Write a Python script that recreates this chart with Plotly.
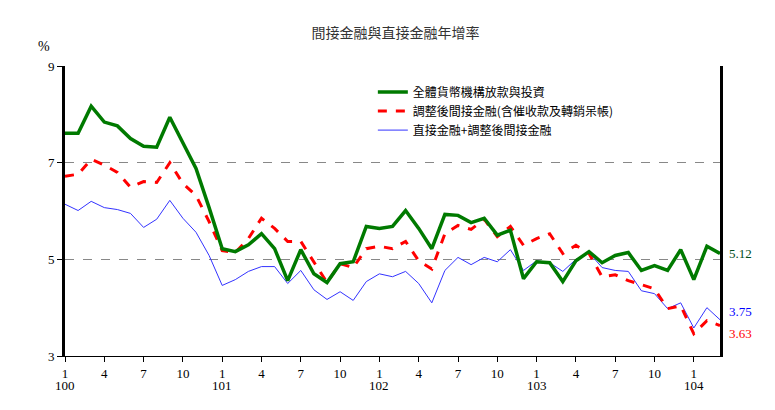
import plotly.graph_objects as go

years = ["100", "101", "102", "103", "104"]
months = [1, 4, 7, 10]
n_points = 51  # 100/1 .. 104/3

loans = [7.61, 7.61, 8.17, 7.84, 7.76, 7.50, 7.34, 7.32, 7.94, 7.42, 6.88, 6.07,
         5.22, 5.16, 5.30, 5.53, 5.22, 4.56, 5.20, 4.70, 4.52, 4.91, 4.95, 5.68,
         5.64, 5.68, 6.01, 5.64, 5.22, 5.93, 5.91, 5.76, 5.85, 5.50, 5.60, 4.60,
         4.95, 4.93, 4.54, 4.97, 5.16, 4.93, 5.08, 5.14, 4.77, 4.87, 4.77, 5.20,
         4.58, 5.27, 5.12]
indirect = [6.72, 6.76, 7.07, 6.95, 6.80, 6.49, 6.61, 6.59, 7.00, 6.57, 6.32, 5.78,
            5.18, 5.14, 5.43, 5.85, 5.64, 5.37, 5.37, 4.95, 4.52, 4.91, 4.83, 5.22,
            5.27, 5.22, 5.37, 4.97, 4.80, 5.53, 5.70, 5.62, 5.83, 5.47, 5.68, 5.29,
            5.43, 5.53, 5.12, 5.29, 5.12, 4.64, 4.68, 4.56, 4.48, 4.39, 3.98, 4.04,
            3.46, 3.73, 3.63]
total = [6.14, 6.01, 6.20, 6.07, 6.03, 5.95, 5.66, 5.83, 6.22, 5.85, 5.56, 5.08,
         4.46, 4.58, 4.75, 4.85, 4.85, 4.50, 4.77, 4.37, 4.17, 4.33, 4.15, 4.54,
         4.70, 4.64, 4.75, 4.50, 4.10, 4.77, 5.04, 4.89, 5.04, 4.95, 5.20, 4.77,
         4.97, 4.93, 4.75, 5.00, 5.14, 4.83, 4.77, 4.75, 4.35, 4.29, 3.98, 4.10,
         3.58, 4.00, 3.75]

x = list(range(n_points))
font = "Noto Sans CJK TC"

fig = go.Figure()
fig.add_trace(go.Scatter(x=x, y=total, mode="lines", name="直接金融+調整後間接金融",
                         line=dict(color="#3333ff", width=1)))
fig.add_trace(go.Scatter(x=x, y=indirect, mode="lines", name="調整後間接金融(含催收款及轉銷呆帳)",
                         line=dict(color="#ff0000", width=3, dash="dash")))
fig.add_trace(go.Scatter(x=x, y=loans, mode="lines", name="全體貨幣機構放款與投資",
                         line=dict(color="#007a00", width=3.5)))

tickvals, ticktext = [], []
for yi, yr in enumerate(years):
    for m in months:
        idx = yi * 12 + m - 1
        if idx < n_points:
            tickvals.append(idx)
            ticktext.append(str(m))

ann = []
for yi, yr in enumerate(years):
    ann.append(dict(x=yi * 12, y=-0.135, xref="x", yref="paper", text=yr, showarrow=False,
                    font=dict(size=13, color="black", family="Liberation Serif")))
for val, col, shift in [(loans[-1], "#004d1a", 0), (total[-1], "#0000ff", 8),
                        (indirect[-1], "#ff0000", -8)]:
    ann.append(dict(x=1.01, y=val, xref="paper", yref="y", text=f"{val:.2f}", xanchor="left",
                    yshift=shift, showarrow=False,
                    font=dict(size=13, color=col, family="Liberation Serif")))
ann.append(dict(x=-0.045, y=1.1, xref="paper", yref="paper", text="%", showarrow=False,
                font=dict(size=14, color="black", family="Liberation Serif")))

fig.update_layout(
    width=775, height=410,
    margin=dict(l=57, r=63, t=58, b=62),
    paper_bgcolor="white", plot_bgcolor="white",
    title=dict(text="間接金融與直接金融年增率", x=0.5, y=0.95, xanchor="center",
               font=dict(size=14, color="#333", family=font)),
    showlegend=True,
    legend=dict(x=0.47, y=0.96, xanchor="left", yanchor="top", traceorder="reversed",
                font=dict(size=12, family=font, color="black"), bgcolor="rgba(0,0,0,0)"),
    annotations=ann,
    xaxis=dict(range=[0, n_points - 1], tickvals=tickvals, ticktext=ticktext,
               ticks="outside", ticklen=5, tickcolor="black", showgrid=False,
               showline=True, linecolor="black", linewidth=1, mirror=False,
               tickfont=dict(size=13, color="black", family="Liberation Serif")),
    yaxis=dict(range=[3, 9], tickvals=[3, 5, 7, 9], ticks="outside", ticklen=5,
               tickcolor="black", showline=True, linecolor="black", linewidth=3, mirror=True,
               showgrid=True, gridcolor="#888", griddash="dash", gridwidth=1, zeroline=False,
               tickfont=dict(size=13, color="black", family="Liberation Serif")),
)
fig.write_html("out.html")
